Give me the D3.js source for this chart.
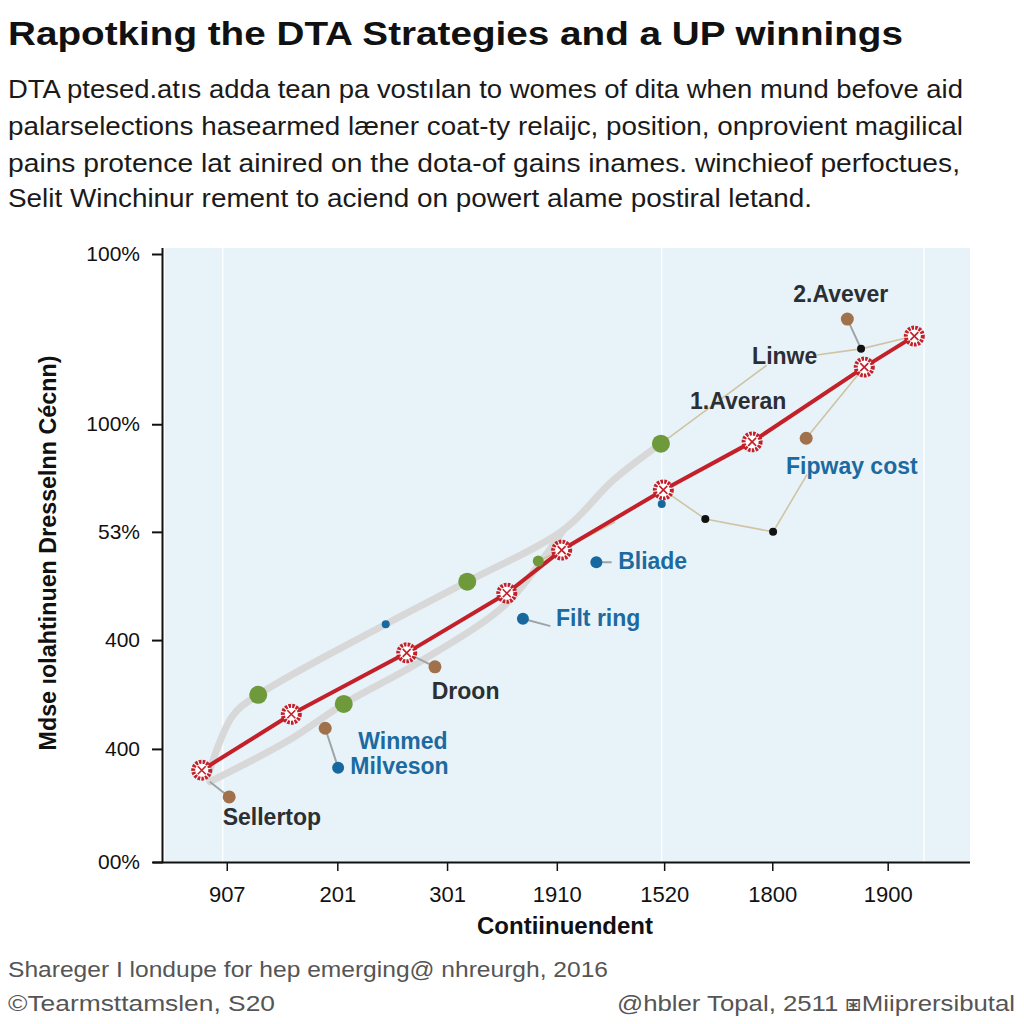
<!DOCTYPE html>
<html><head><meta charset="utf-8">
<script src="https://cdn.jsdelivr.net/npm/d3@7"></script>
<style>body{margin:0;background:#fff;} svg{display:block;font-family:"Liberation Sans",Arial,sans-serif;}</style>
</head><body>
<script>
// ---- data ----
const titleText = "Rapotking the DTA Strategies and a UP winnings";
const subtitleLines = [
  "DTA ptesed.at\u0131s adda tean pa vost\u0131lan to womes of dita when mund befove aid",
  "palarselections hasearmed l\u00e6ner coat-ty relaijc, position, onprovient magilical",
  "pains protence lat ainired on the dota-of gains inames. winchieof perfoctues,",
  "Selit Winchinur rement to aciend on powert alame postiral letand."
];
const xTickVals = [7.9, 21.6, 35.2, 48.8, 62.1, 75.5, 89.8];
const xTickLabels = ["907", "201", "301", "1910", "1520", "1800", "1900"];
const yTickVals = [100, 72.0, 54.3, 36.5, 18.6, 0];
const yTickLabels = ["100%", "100%", "53%", "400", "400", "00%"];
const gridX = [7.4, 61.8, 94.3];
const xTitle = "Contiinuendent";
const yTitle = "Mdse \u0131olahtinuen Dresselnn C\u00e9cnn)";

const redLine = [[4.8,15.1],[15.9,24.3],[30.2,34.4],[42.6,44.2],[49.4,51.3],[62.0,61.2],[73.0,69.1],[86.9,81.4],[93.1,86.5]];
const grayUpper = [[5.6,14.3],[8.6,24.0],[11.8,27.5],[27.6,39.1],[37.7,46.1],[49.6,54.6],[55.8,62.8],[61.7,68.8]];
const grayLower = [[5.8,13.2],[15.7,20.1],[22.4,26.0],[31.8,32.9],[42.4,42.3],[47.6,50.8],[49.6,54.6]];

const greenLarge = [[11.8,27.5],[22.4,26.0],[37.7,46.1],[61.7,68.8]];
const greenSmall = [[46.5,49.5]];
const blueLarge = [[21.7,15.5],[44.6,40.0],[53.7,49.3]];
const blueSmall = [[27.6,39.1],[61.8,58.9]];
const brownPts = [[8.2,10.7],[20.1,22.0],[33.7,32.1],[79.7,69.7],[84.8,89.3]];
const blackPts = [[67.2,56.4],[75.6,54.3],[86.5,84.4]];

const grayLinks = [
  [[5.8,13.2],[8.2,10.7]],
  [[20.1,22.0],[21.7,15.5]],
  [[30.2,34.4],[33.7,32.1]],
  [[44.6,40.0],[48.0,38.8]],
  [[53.7,49.3],[55.6,49.3]],
  [[84.8,89.3],[86.5,84.4]]
];
const tanLinks = [
  [[61.7,68.8],[74.8,81.7]],
  [[81.0,83.4],[86.5,84.4],[93.1,86.5]],
  [[62.0,61.2],[67.2,56.4],[75.6,54.3],[79.8,63.7]],
  [[86.9,81.4],[79.7,69.7]],
  [[46.5,49.5],[49.4,51.3],[56.0,55.9]]
];
const labelsDark = [["2.Avever",78.1,92.1],["Linwe",73.0,81.9],["1.Averan",65.3,74.5],["Droon",33.3,26.8],["Sellertop",7.4,6.1]];
const labelsBlue = [["Fipway cost",77.2,63.8],["Bliade",56.4,48.2],["Filt ring",48.7,38.8],["Winmed",24.2,18.6],["Milveson",23.2,14.5]];
const footerLeft1 = "Shareger I londupe for hep emerging@ nhreurgh, 2016";
const footerLeft2 = "\u00a9Tearmsttamslen, S20";
const footerRight = "@hbler Topal, 2511  \u29c6Miiprersibutal";

// ---- drawing ----
const W = 1024, H = 1024;
const svg = d3.select("body").append("svg").attr("width", W).attr("height", H);
const L = 163, R = 970, T = 254, B = 862;
const x = d3.scaleLinear().domain([0,100]).range([L,R]);
const y = d3.scaleLinear().domain([0,100]).range([B,T]);

function fitText(sel, target){
  sel.attr("textLength", target).attr("lengthAdjust","spacingAndGlyphs");
}

const t = svg.append("text").attr("x",8).attr("y",45).attr("font-size",34).attr("font-weight","bold").attr("fill","#111").text(titleText);
fitText(t, 895);
const subW = [955, 955, 952, 804];
const subY = [98, 135, 172, 207];
subtitleLines.forEach((s,i)=>{
  const st = svg.append("text").attr("x",8).attr("y",subY[i]).attr("font-size",26).attr("fill","#1a1a1a").text(s);
  fitText(st, subW[i]);
});

// plot background
svg.append("rect").attr("x",L+2).attr("y",248).attr("width",R-L-2).attr("height",B-248).attr("fill","#e8f3f9");
svg.selectAll(".gx").data(gridX).enter().append("line")
  .attr("x1",d=>x(d)).attr("x2",d=>x(d)).attr("y1",248).attr("y2",B)
  .attr("stroke","#ffffff").attr("stroke-width",1.5).attr("opacity",0.9);

// axes
const yAxis = d3.axisLeft(y).tickValues(yTickVals).tickFormat((d,i)=>yTickLabels[i]).tickSize(11).tickPadding(12);
const gy = svg.append("g").attr("transform",`translate(${L},0)`).call(yAxis);
gy.select(".domain").attr("d",`M-0.5,${248}V${B}`).attr("stroke","#111").attr("stroke-width",2);
gy.selectAll(".tick line").attr("stroke","#111").attr("stroke-width",2);
gy.selectAll(".tick text").attr("font-size",21).attr("fill","#111").attr("font-family","Liberation Sans, Arial, sans-serif");

const xAxis = d3.axisBottom(x).tickValues(xTickVals).tickFormat((d,i)=>xTickLabels[i]).tickSize(9).tickPadding(15);
const gx = svg.append("g").attr("transform",`translate(0,${B})`).call(xAxis);
gx.select(".domain").attr("d",`M${L-10},0.5H${R}`).attr("stroke","#111").attr("stroke-width",2);
gx.selectAll(".tick line").attr("stroke","#111").attr("stroke-width",1.5);
gx.selectAll(".tick text").attr("font-size",22).attr("fill","#111").attr("font-family","Liberation Sans, Arial, sans-serif");

const xt = svg.append("text").attr("x",565).attr("y",934).attr("text-anchor","middle").attr("font-size",24).attr("font-weight","bold").attr("fill","#111").text(xTitle);
fitText(xt, 176);
const yt = svg.append("text").attr("transform","translate(56,553) rotate(-90)").attr("text-anchor","middle").attr("font-size",24).attr("font-weight","bold").attr("fill","#111").text(yTitle);
fitText(yt, 395);

const line = d3.line().x(d=>x(d[0])).y(d=>y(d[1]));
const curve = d3.line().x(d=>x(d[0])).y(d=>y(d[1])).curve(d3.curveCatmullRom.alpha(0.5));

// gray bands
[grayUpper, grayLower].forEach(g=>{
  svg.append("path").attr("d",curve(g)).attr("fill","none").attr("stroke","#d8d8d8").attr("stroke-width",7).attr("stroke-linecap","round").attr("stroke-linejoin","round");
});
// connectors
grayLinks.forEach(l=>svg.append("path").attr("d",line(l)).attr("fill","none").attr("stroke","#9fa3a6").attr("stroke-width",2));
tanLinks.forEach(l=>svg.append("path").attr("d",line(l)).attr("fill","none").attr("stroke","#cfc3a3").attr("stroke-width",1.6));

// red line
svg.append("path").attr("d",line(redLine)).attr("fill","none").attr("stroke","#c3202a").attr("stroke-width",4).attr("stroke-linejoin","round");

// points
function dots(data, r, fill){
  svg.append("g").selectAll("circle").data(data).enter().append("circle")
    .attr("cx",d=>x(d[0])).attr("cy",d=>y(d[1])).attr("r",r).attr("fill",fill);
}
dots(greenLarge, 9, "#6e9a3c");
dots(greenSmall, 5.5, "#6e9a3c");
dots(blueLarge, 6, "#17689f");
dots(blueSmall, 4, "#17689f");
dots(brownPts, 6.5, "#a0714a");
dots(blackPts, 4, "#111");

// red markers
const mk = svg.append("g").selectAll("g").data(redLine).enter().append("g")
  .attr("transform",d=>`translate(${x(d[0])},${y(d[1])})`);
mk.append("circle").attr("r",8.5).attr("fill","#ffffff").attr("stroke","#c3202a").attr("stroke-width",4).attr("stroke-dasharray","2.5,1.2");
mk.append("path").attr("d","M-4,-4L4,4M-4,4L4,-4").attr("stroke","#c3202a").attr("stroke-width",1.6);

// labels
svg.append("g").selectAll("text").data(labelsDark).enter().append("text")
  .attr("x",d=>x(d[1])).attr("y",d=>y(d[2])).attr("font-size",23).attr("font-weight","bold").attr("fill","#2b2f33").text(d=>d[0]);
svg.append("g").selectAll("text").data(labelsBlue).enter().append("text")
  .attr("x",d=>x(d[1])).attr("y",d=>y(d[2])).attr("font-size",23).attr("font-weight","bold").attr("fill","#1c6aa0").text(d=>d[0]);

// footer
const f1 = svg.append("text").attr("x",8).attr("y",977).attr("font-size",22).attr("fill","#555").text(footerLeft1);
fitText(f1, 600);
const f2 = svg.append("text").attr("x",8).attr("y",1011).attr("font-size",22).attr("fill","#555").text(footerLeft2);
fitText(f2, 267);
const f3 = svg.append("text").attr("x",617).attr("y",1011).attr("font-size",22).attr("fill","#555").text(footerRight);
fitText(f3, 398);
</script>
</body></html>
